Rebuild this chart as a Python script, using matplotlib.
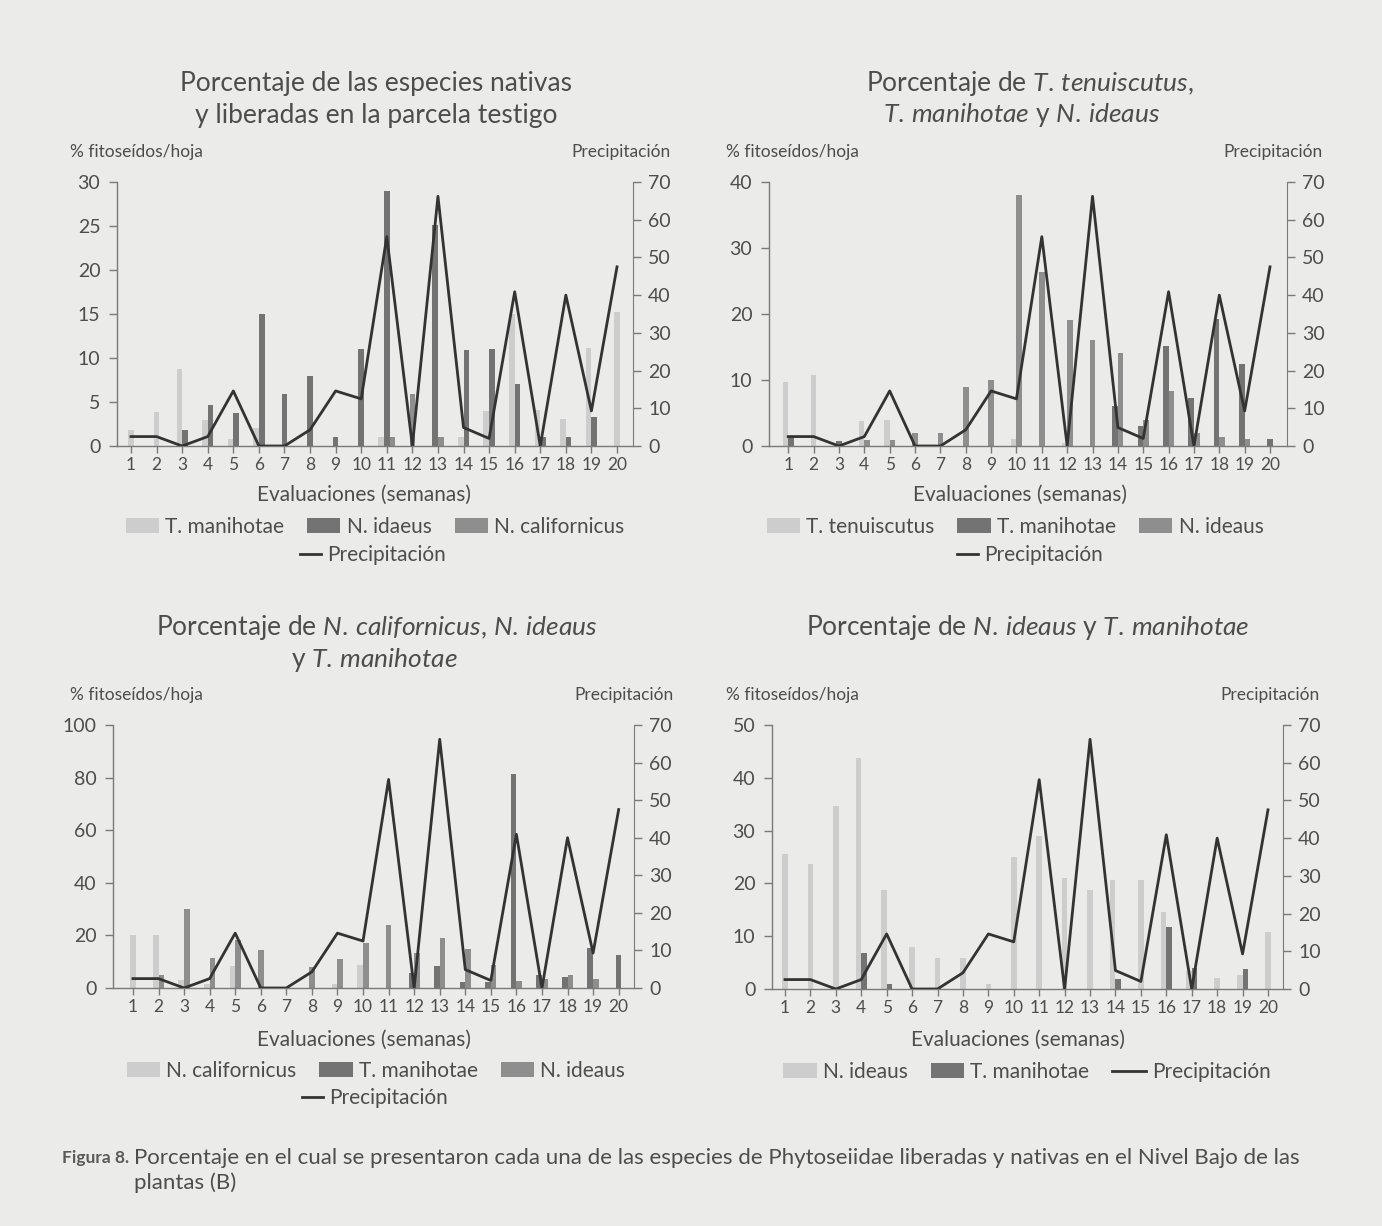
import numpy as np
import matplotlib
matplotlib.use("Agg")
import matplotlib.pyplot as plt
from matplotlib.patches import Patch
from matplotlib.lines import Line2D

plt.rcParams['font.family'] = ['Lato', 'DejaVu Sans']
plt.rcParams['mathtext.fontset'] = 'custom'
plt.rcParams['mathtext.rm'] = 'Lato'
plt.rcParams['mathtext.it'] = 'Lato:italic'

# ---------------- data ----------------
weeks = list(range(1, 21))
week_labels = [str(w) for w in weeks]
precipitacion = [2.5, 2.5, 0, 2.5, 14.6, 0, 0, 4.3, 14.6, 12.5,
                 55.5, 0, 66.2, 4.9, 2.0, 40.9, 0, 40.0, 9.3, 47.5]

# Parcela testigo
p1_t_manihotae = [1.8, 3.9, 8.8, 2.9, 0.8, 2.0, 0, 0, 0, 0,
                  1.0, 0, 0, 1.0, 4.0, 15.0, 4.1, 3.1, 11.1, 15.2]
p1_n_idaeus = [0, 0, 1.8, 4.7, 3.8, 15.0, 5.9, 7.9, 1.0, 11.0,
               29.0, 0, 25.1, 10.9, 11.0, 7.0, 1.0, 1.0, 3.3, 0]
p1_n_californicus = [0, 0, 0, 0, 0, 0, 0, 0, 0, 0,
                     1.0, 5.9, 1.0, 0, 0, 0, 0, 0, 0, 0]

# T. tenuiscutus, T. manihotae y N. ideaus
p2_t_tenuiscutus = [9.7, 10.7, 0, 3.8, 3.9, 0, 0, 0, 0, 1.0,
                    0, 0.5, 0, 0, 0, 0, 0, 0, 0, 0]
p2_t_manihotae = [1.3, 0, 0.7, 0, 0, 0, 0, 0, 0, 0,
                  0, 0, 0, 6.1, 3.0, 15.2, 7.2, 19.2, 12.4, 1.0]
p2_n_ideaus = [0, 0, 0, 0.9, 0.9, 1.9, 1.9, 8.9, 10.0, 38.1,
               26.3, 19.1, 16.0, 14.1, 4.0, 8.3, 1.9, 1.3, 1.0, 0]

# N. californicus, N. ideaus y T. manihotae
p3_n_californicus = [20.0, 20.0, 3.2, 1.5, 8.2, 0, 0, 0, 1.5, 8.9,
                     0, 0, 0, 0, 0, 0, 0, 0, 0, 0]
p3_t_manihotae = [0, 0, 0, 0, 0, 0, 0, 0, 0, 0,
                  0, 5.7, 8.2, 2.2, 2.2, 81.3, 5.1, 4.2, 15.2, 12.7]
p3_n_ideaus = [0, 5.1, 30.0, 11.4, 18.1, 14.6, 0, 8.0, 11.0, 17.1,
               24.1, 13.3, 19.0, 14.8, 8.9, 2.5, 3.5, 5.1, 3.5, 0]

# N. ideaus y T. manihotae
p4_n_ideaus = [25.6, 23.7, 34.7, 43.7, 18.8, 7.9, 5.9, 5.9, 1.0, 25.0,
               28.9, 21.0, 18.8, 20.6, 20.7, 14.6, 3.5, 2.1, 2.7, 10.8]
p4_t_manihotae = [0, 0, 0, 6.8, 1.0, 0, 0, 0, 0, 0,
                  0, 0, 0, 1.8, 0, 11.8, 4.0, 0, 3.8, 0]

# ---------------- style ----------------
W, H = 1382, 1226
BG = '#ebebe9'
TXT = '#4d4d4d'
AX = '#7a7a7a'
LIGHT = '#cdcdcd'
DARK = '#737373'
MED = '#8e8e8e'
LINE = '#333333'
BAR_W = 0.22

fig = plt.figure(figsize=(W / 100, H / 100), dpi=100, facecolor=BG)


def px_axes(x0, x1, ytop, ybot):
    return fig.add_axes([x0 / W, 1 - ybot / H, (x1 - x0) / W, (ybot - ytop) / H])


def panel(box, xlim, ymax, ystep, series, colors):
    ax = px_axes(*box)
    ax.set_facecolor('none')
    x = np.array(weeks, dtype=float)
    vals = np.array(series, dtype=float)
    # bars present in a week are centred on its tick
    present = vals > 0
    n_present = present.sum(axis=0)
    rank = np.cumsum(present, axis=0) - 1
    for k in range(len(series)):
        mask = present[k]
        offs = (rank[k] - (n_present - 1) / 2.0) * BAR_W
        ax.bar(x[mask] + offs[mask], vals[k][mask], width=BAR_W,
               color=colors[k], edgecolor='none', zorder=2)
    ax.set_xlim(*xlim)
    ax.set_ylim(0, ymax)
    ax.set_yticks(np.arange(0, ymax + 0.1, ystep))
    ax.set_xticks(weeks)
    ax.set_xticklabels(week_labels)
    for s in ('top', 'right'):
        ax.spines[s].set_visible(False)
    for s in ('left', 'bottom'):
        ax.spines[s].set_color(AX)
        ax.spines[s].set_linewidth(1.0)
    ax.tick_params(axis='y', direction='out', length=6, width=1, color=AX,
                   labelcolor=TXT, labelsize=14, pad=6)
    ax.tick_params(axis='x', direction='out', length=5, width=1, color=AX,
                   labelcolor=TXT, labelsize=12.5, pad=3)

    ax2 = ax.twinx()
    ax2.plot(x, precipitacion, color=LINE, lw=2.0, zorder=3)
    ax2.set_ylim(0, 70)
    ax2.set_yticks(np.arange(0, 71, 10))
    for s in ('top', 'left', 'bottom'):
        ax2.spines[s].set_visible(False)
    ax2.spines['right'].set_color(AX)
    ax2.tick_params(axis='y', direction='out', length=6, width=1, color=AX,
                    labelcolor=TXT, labelsize=14, pad=5)
    return ax


ax1 = panel((117, 633, 182, 446), (0.453, 20.625), 30, 5,
            [p1_t_manihotae, p1_n_idaeus, p1_n_californicus], [LIGHT, DARK, MED])
ax2 = panel((769, 1287, 182, 446), (0.24, 20.67), 40, 10,
            [p2_t_tenuiscutus, p2_t_manihotae, p2_n_ideaus], [LIGHT, DARK, MED])
ax3 = panel((113, 634, 725, 988), (0.22, 20.6), 100, 20,
            [p3_n_californicus, p3_t_manihotae, p3_n_ideaus], [LIGHT, DARK, MED])
ax4 = panel((772, 1283, 725, 989), (0.49, 20.59), 50, 10,
            [p4_n_ideaus, p4_t_manihotae], [LIGHT, DARK])


def ftext(x, y, s, **kw):
    kw.setdefault('color', TXT)
    fig.text(x / W, 1 - y / H, s, **kw)


def it(name):
    # italic species name with a thin gap after the genus initial
    return r'$\mathit{' + name.replace(' ', r'\,') + '}$'


# titles
TS = 19
ftext(376, 84, 'Porcentaje de las especies nativas', ha='center', va='center', fontsize=TS)
ftext(376, 115, 'y liberadas en la parcela testigo', ha='center', va='center', fontsize=TS)
ftext(1030, 84, 'Porcentaje de ' + it('T. tenuiscutus') + ',', ha='center', va='center', fontsize=TS)
ftext(1022, 115, it('T. manihotae') + ' y ' + it('N. ideaus'), ha='center', va='center', fontsize=TS)
ftext(377, 628, 'Porcentaje de ' + it('N. californicus') + ', ' + it('N. ideaus'),
      ha='center', va='center', fontsize=TS)
ftext(374, 660, 'y ' + it('T. manihotae'), ha='center', va='center', fontsize=TS)
ftext(1028, 628, 'Porcentaje de ' + it('N. ideaus') + ' y ' + it('T. manihotae'),
      ha='center', va='center', fontsize=TS)

# axis captions
LS = 12.5
for (xl, xr, y) in ((70, 671, 152), (726, 1323, 152), (70, 674, 695), (726, 1320, 695)):
    ftext(xl, y, '% fitoseídos/hoja', ha='left', va='center', fontsize=LS)
    ftext(xr, y, 'Precipitación', ha='right', va='center', fontsize=LS)
for (xc, y) in ((364, 495), (1020, 495), (364, 1040), (1018, 1040)):
    ftext(xc, y, 'Evaluaciones (semanas)', ha='center', va='center', fontsize=15)

# legends
GS = 15


def bar_legend(labels, colors, xc, y, ncol=3, extra=None):
    handles = [Patch(facecolor=c, edgecolor='none') for c in colors]
    if extra:
        handles.append(Line2D([0], [0], color=LINE, lw=2))
        labels = labels + [extra]
    lg = fig.legend(handles, labels, loc='center', bbox_to_anchor=(xc / W, 1 - y / H),
                    ncol=ncol, frameon=False, fontsize=GS, handlelength=1.6,
                    handleheight=0.75, handletextpad=0.3, columnspacing=1.1,
                    borderaxespad=0, borderpad=0)
    for t in lg.get_texts():
        t.set_color(TXT)
    return lg


def line_legend(xc, y):
    lg = fig.legend([Line2D([0], [0], color=LINE, lw=2)], ['Precipitación'], loc='center',
                    bbox_to_anchor=(xc / W, 1 - y / H), frameon=False, fontsize=GS,
                    handlelength=1.0, handletextpad=0.3, borderaxespad=0, borderpad=0)
    for t in lg.get_texts():
        t.set_color(TXT)


bar_legend(['T. manihotae', 'N. idaeus', 'N. californicus'], [LIGHT, DARK, MED], 375, 527)
line_legend(373, 555)
bar_legend(['T. tenuiscutus', 'T. manihotae', 'N. ideaus'], [LIGHT, DARK, MED], 1015, 527)
line_legend(1030, 555)
bar_legend(['N. californicus', 'T. manihotae', 'N. ideaus'], [LIGHT, DARK, MED], 376, 1071)
line_legend(375, 1098)
bar_legend(['N. ideaus', 'T. manihotae'], [LIGHT, DARK], 1027, 1072, ncol=3, extra='Precipitación')

# figure caption
ftext(62, 1158, 'Figura 8.', ha='left', va='center', fontsize=12.5, fontweight='bold', color='#5a5a5a')
ftext(134, 1158, 'Porcentaje en el cual se presentaron cada una de las especies de Phytoseiidae '
      'liberadas y nativas en el Nivel Bajo de las', ha='left', va='center', fontsize=16)
ftext(134, 1183, 'plantas (B)', ha='left', va='center', fontsize=16)

fig.savefig('out.png', dpi=100, facecolor=BG)
